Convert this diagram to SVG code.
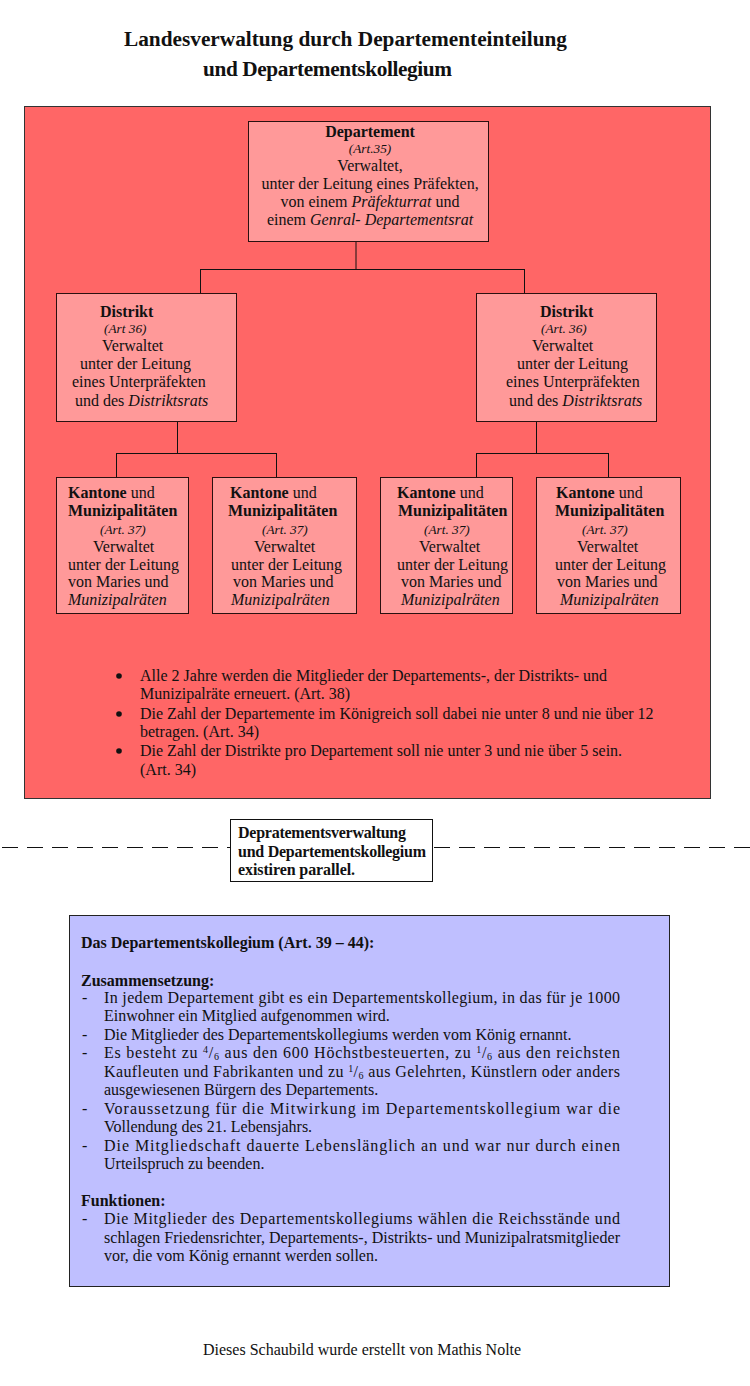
<svg xmlns="http://www.w3.org/2000/svg" width="750" height="1386" viewBox="0 0 750 1386">
<style>
text{font-family:"Liberation Serif","Times New Roman",serif;font-size:16px;fill:#111}
.b{font-weight:bold}
.i{font-style:italic}
.t{font-size:21.3px}
.art{font-style:italic;font-size:13.3px}
.node{fill:#FF9999;stroke:#2a1010;stroke-width:1}
.c{text-anchor:middle}
.conn line{stroke:#111;stroke-width:1}
</style>
<rect width="750" height="1386" fill="#fff"/>
<g id="title">
<text class="b t" x="124" y="46" textLength="443">Landesverwaltung durch Departementeinteilung</text>
<text class="b t" x="203" y="76" textLength="249">und Departementskollegium</text>
</g>
<g id="verwaltung-panel">
<rect x="24.5" y="106.5" width="686" height="692" fill="#FF6666" stroke="#333" stroke-width="1"/>
</g>
<g class="conn" id="connectors">
<line x1="356" y1="241" x2="356" y2="269"/>
<line x1="200" y1="269.5" x2="524" y2="269.5"/>
<line x1="200.5" y1="269" x2="200.5" y2="293"/>
<line x1="524.5" y1="269" x2="524.5" y2="293"/>
<line x1="177.5" y1="421" x2="177.5" y2="453"/>
<line x1="116" y1="453.5" x2="276" y2="453.5"/>
<line x1="116.5" y1="453" x2="116.5" y2="477"/>
<line x1="276.5" y1="453" x2="276.5" y2="477"/>
<line x1="536.5" y1="421" x2="536.5" y2="453"/>
<line x1="476" y1="453.5" x2="608" y2="453.5"/>
<line x1="476.5" y1="453" x2="476.5" y2="477"/>
<line x1="608.5" y1="453" x2="608.5" y2="477"/>
</g>
<g id="departement">
<rect class="node" x="248.5" y="121.5" width="240" height="120"/>
<text class="b c" x="370" y="137">Departement</text>
<text class="art c" x="370" y="153">(Art.35)</text>
<text class="c" x="370" y="171">Verwaltet,</text>
<text class="c" x="370" y="189">unter der Leitung eines Präfekten,</text>
<text class="c" x="370" y="207">von einem <tspan class="i">Präfekturrat</tspan> und</text>
<text class="c" x="370" y="225">einem <tspan class="i">Genral- Departementsrat</tspan></text>
</g>
<g id="distrikt-links">
<rect class="node" x="56.5" y="293.5" width="180" height="128"/>
<text class="b" x="100" y="317">Distrikt</text>
<text class="art" x="104" y="333">(Art 36)</text>
<text x="102" y="351">Verwaltet</text>
<text x="80" y="369">unter der Leitung</text>
<text x="72" y="387">eines Unterpräfekten</text>
<text x="75" y="406">und des <tspan class="i">Distriktsrats</tspan></text>
</g>
<g id="distrikt-rechts">
<rect class="node" x="476.5" y="293.5" width="180" height="128"/>
<text class="b" x="540" y="317">Distrikt</text>
<text class="art" x="541" y="333">(Art. 36)</text>
<text x="532" y="351">Verwaltet</text>
<text x="517" y="369">unter der Leitung</text>
<text x="506" y="387">eines Unterpräfekten</text>
<text x="509" y="406">und des <tspan class="i">Distriktsrats</tspan></text>
</g>
<g id="kanton-1">
<rect class="node" x="56.5" y="477.5" width="132" height="136"/>
<text x="68" y="498"><tspan class="b">Kantone</tspan> und</text>
<text class="b" x="68" y="516">Munizipalitäten</text>
<text class="art" x="100" y="534">(Art. 37)</text>
<text x="93" y="552">Verwaltet</text>
<text x="68" y="570">unter der Leitung</text>
<text x="68" y="587">von Maries und</text>
<text class="i" x="68" y="605">Munizipalräten</text>
</g>
<g id="kanton-2">
<rect class="node" x="212.5" y="477.5" width="144" height="136"/>
<text x="230" y="498"><tspan class="b">Kantone</tspan> und</text>
<text class="b" x="228" y="516">Munizipalitäten</text>
<text class="art" x="262" y="534">(Art. 37)</text>
<text x="254" y="552">Verwaltet</text>
<text x="231" y="570">unter der Leitung</text>
<text x="233" y="587">von Maries und</text>
<text class="i" x="231" y="605">Munizipalräten</text>
</g>
<g id="kanton-3">
<rect class="node" x="380.5" y="477.5" width="132" height="136"/>
<text x="397" y="498"><tspan class="b">Kantone</tspan> und</text>
<text class="b" x="398" y="516">Munizipalitäten</text>
<text class="art" x="424" y="534">(Art. 37)</text>
<text x="419" y="552">Verwaltet</text>
<text x="397" y="570">unter der Leitung</text>
<text x="401" y="587">von Maries und</text>
<text class="i" x="401" y="605">Munizipalräten</text>
</g>
<g id="kanton-4">
<rect class="node" x="536.5" y="477.5" width="144" height="136"/>
<text x="556" y="498"><tspan class="b">Kantone</tspan> und</text>
<text class="b" x="555" y="516">Munizipalitäten</text>
<text class="art" x="582" y="534">(Art. 37)</text>
<text x="577" y="552">Verwaltet</text>
<text x="555" y="570">unter der Leitung</text>
<text x="557" y="587">von Maries und</text>
<text class="i" x="560" y="605">Munizipalräten</text>
</g>
<g id="hinweise">
<circle cx="119" cy="676" r="2.8" fill="#111"/>
<circle cx="119" cy="714" r="2.8" fill="#111"/>
<circle cx="119" cy="751" r="2.8" fill="#111"/>
<text x="140" y="681">Alle 2 Jahre werden die Mitglieder der Departements-, der Distrikts- und</text>
<text x="140" y="699">Munizipalräte erneuert. (Art. 38)</text>
<text x="140" y="719">Die Zahl der Departemente im Königreich soll dabei nie unter 8 und nie über 12</text>
<text x="140" y="737">betragen. (Art. 34)</text>
<text x="140" y="756">Die Zahl der Distrikte pro Departement soll nie unter 3 und nie über 5 sein.</text>
<text x="140" y="775">(Art. 34)</text>
</g>
<g id="trennlinie">
<line x1="2" y1="847.5" x2="230" y2="847.5" stroke="#111" stroke-width="1" stroke-dasharray="16,9"/>
<line x1="434" y1="847.5" x2="750" y2="847.5" stroke="#111" stroke-width="1" stroke-dasharray="16,9"/>
</g>
<g id="parallel-hinweis">
<rect x="230.5" y="819.5" width="202" height="62" fill="#fff" stroke="#111" stroke-width="1"/>
<text class="b" x="238" y="838" textLength="168">Depratementsverwaltung</text>
<text class="b" x="238" y="857" textLength="188">und Departementskollegium</text>
<text class="b" x="238" y="875" textLength="117">existiren parallel.</text>
</g>
<g id="departementskollegium">
<rect x="69.5" y="915.5" width="600" height="371" fill="#BFBFFF" stroke="#222" stroke-width="1"/>
<text class="b" x="81" y="948">Das Departementskollegium (Art. 39 – 44):</text>
<text class="b" x="81" y="986">Zusammensetzung:</text>
<text x="82" y="1003">-</text>
<text x="104" y="1003" textLength="516">In jedem Departement gibt es ein Departementskollegium, in das für je 1000</text>
<text x="104" y="1021">Einwohner ein Mitglied aufgenommen wird.</text>
<text x="82" y="1040">-</text>
<text x="104" y="1040">Die Mitglieder des Departementskollegiums werden vom König ernannt.</text>
<text x="82" y="1058">-</text>
<text x="104" y="1058" textLength="516">Es besteht zu <tspan font-size="10" dy="-5">4</tspan><tspan dy="5">/</tspan><tspan font-size="10" dy="2">6</tspan><tspan dy="-2"> aus den 600 Höchstbesteuerten, zu </tspan><tspan font-size="10" dy="-5">1</tspan><tspan dy="5">/</tspan><tspan font-size="10" dy="2">6</tspan><tspan dy="-2"> aus den reichsten</tspan></text>
<text x="104" y="1077" textLength="516">Kaufleuten und Fabrikanten und zu <tspan font-size="10" dy="-5">1</tspan><tspan dy="5">/</tspan><tspan font-size="10" dy="2">6</tspan><tspan dy="-2"> aus Gelehrten, Künstlern oder anders</tspan></text>
<text x="104" y="1095">ausgewiesenen Bürgern des Departements.</text>
<text x="82" y="1114">-</text>
<text x="104" y="1114" textLength="516">Voraussetzung für die Mitwirkung im Departementskollegium war die</text>
<text x="104" y="1132">Vollendung des 21. Lebensjahrs.</text>
<text x="82" y="1151">-</text>
<text x="104" y="1151" textLength="516">Die Mitgliedschaft dauerte Lebenslänglich an und war nur durch einen</text>
<text x="104" y="1169">Urteilspruch zu beenden.</text>
<text class="b" x="81" y="1206">Funktionen:</text>
<text x="82" y="1224">-</text>
<text x="104" y="1224" textLength="516">Die Mitglieder des Departementskollegiums wählen die Reichsstände und</text>
<text x="104" y="1243" textLength="516">schlagen Friedensrichter, Departements-, Distrikts- und Munizipalratsmitglieder</text>
<text x="104" y="1261">vor, die vom König ernannt werden sollen.</text>
</g>
<g id="fusszeile">
<text x="203" y="1355">Dieses Schaubild wurde erstellt von Mathis Nolte</text>
</g>
</svg>
